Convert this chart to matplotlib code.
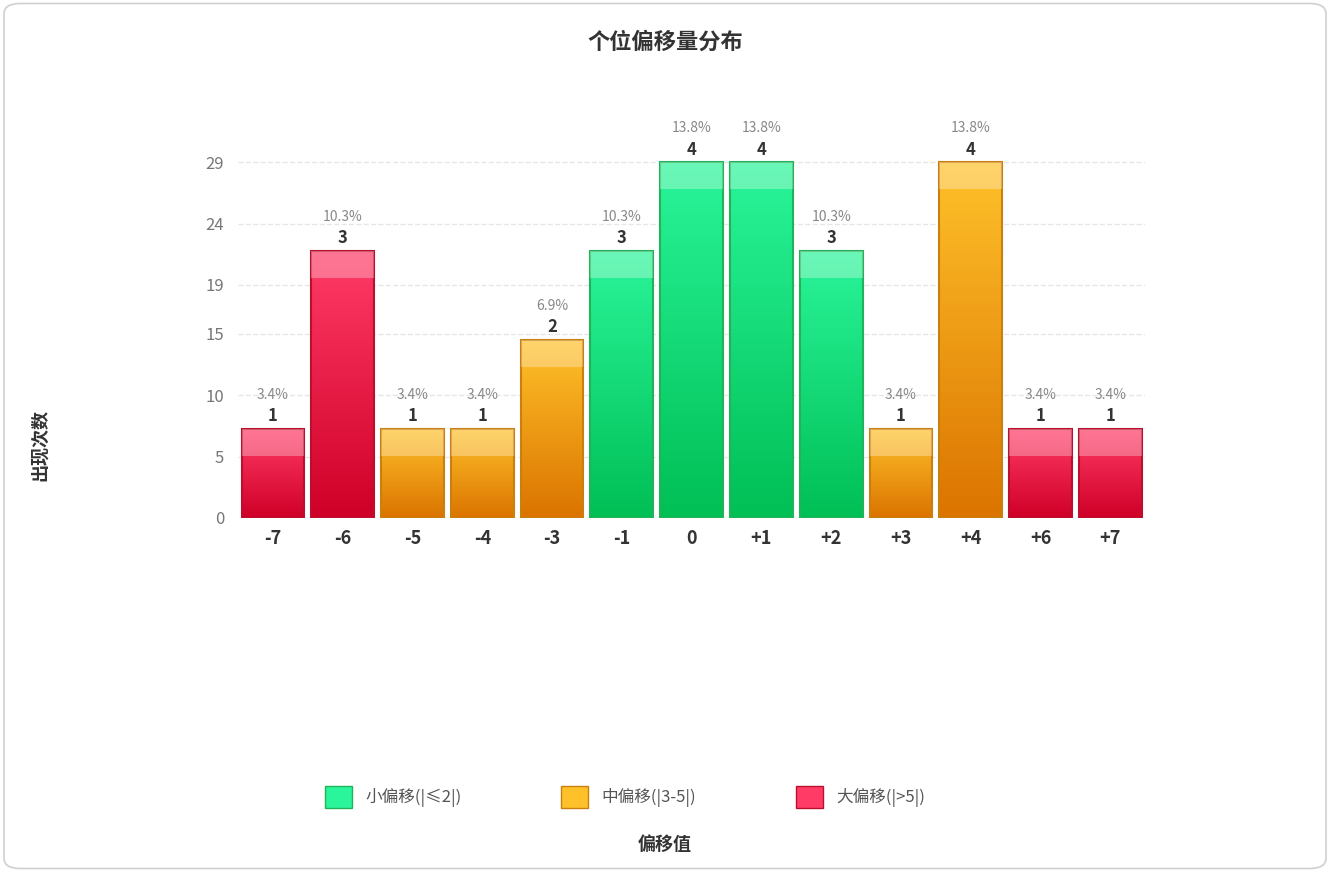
import numpy as np
import matplotlib.pyplot as plt
from matplotlib.colors import LinearSegmentedColormap
from matplotlib.patches import Rectangle, FancyBboxPatch, Patch

plt.rcParams['font.family'] = ['Noto Sans CJK SC', 'DejaVu Sans']

offsets = ['-7', '-6', '-5', '-4', '-3', '-1', '0', '+1', '+2', '+3', '+4', '+6', '+7']
counts = [1, 3, 1, 1, 2, 3, 4, 4, 3, 1, 4, 1, 1]
groups = ['big', 'big', 'mid', 'mid', 'mid', 'small', 'small', 'small', 'small', 'mid', 'mid', 'big', 'big']
ytick_vals = [0, 5, 10, 15, 19, 24, 29]
legend_labels = ['小偏移(|≤2|)', '中偏移(|3-5|)', '大偏移(|>5|)']

# top colour, bottom colour, edge colour
styles = {
    'small': ('#2af59a', '#00bf55', '#22b35a'),
    'mid': ('#ffc12a', '#db7400', '#c9800f'),
    'big': ('#ff3b66', '#cf0028', '#b8102e'),
}

total = sum(counts)
scale = 29 / max(counts)

fig = plt.figure(figsize=(13.3, 8.72), dpi=100)
fig.patches.append(FancyBboxPatch((0.003, 0.004), 0.994, 0.992, boxstyle='round,pad=0,rounding_size=0.012',
                                  transform=fig.transFigure, fc='none', ec='#d0d0d0', lw=1.2, zorder=-1))
ax = fig.add_axes([0.179, 0.406, 0.682, 0.422])
ax.set_facecolor('none')

w = 0.9
for i, (c, g) in enumerate(zip(counts, groups)):
    h = c * scale
    top, bot, edge = styles[g]
    cmap = LinearSegmentedColormap.from_list('g', [bot, top])
    grad = np.linspace(0, 1, 100).reshape(-1, 1)
    im = ax.imshow(grad, cmap=cmap, origin='lower', aspect='auto',
                   extent=(i - w / 2, i + w / 2, 0, h), zorder=2)
    r = Rectangle((i - w / 2, 0), w, h, fc='none', ec=edge, lw=1.5, zorder=3)
    ax.add_patch(r)
    im.set_clip_path(r)
    ax.add_patch(Rectangle((i - w / 2, h - 2.2), w, 2.2, fc='white', alpha=0.3, lw=0, zorder=3))
    ax.text(i, h + 0.3, str(c), ha='center', va='bottom', fontsize=12, fontweight='bold', color='#333333')
    ax.text(i, h + 2.2, f'{c / total * 100:.1f}%', ha='center', va='bottom', fontsize=10, color='#888888')

ax.set_xlim(-0.5, len(offsets) - 0.5)
ax.set_ylim(0, 30)
ax.set_xticks(range(len(offsets)))
ax.set_xticklabels(offsets, fontsize=13, fontweight='bold', color='#333333')
ax.set_yticks(ytick_vals)
ax.set_yticklabels([str(v) for v in ytick_vals], fontsize=12, color='#777777')
ax.tick_params(length=0, pad=8)
ax.tick_params(axis='y', pad=10)
for s in ax.spines.values():
    s.set_visible(False)
ax.grid(axis='y', ls='--', color='#e6e6e6', lw=1, zorder=0)
ax.set_axisbelow(True)

fig.text(0.5, 0.952, '个位偏移量分布', ha='center', va='center', fontsize=16, fontweight='bold', color='#333333')
fig.text(0.03, 0.49, '出现次数', rotation=90, ha='center', va='center', fontsize=13, fontweight='bold', color='#333333')
fig.text(0.5, 0.032, '偏移值', ha='center', va='center', fontsize=13, fontweight='bold', color='#333333')

handles = [Patch(fc=styles[k][0], ec=styles[k][2]) for k in ['small', 'mid', 'big']]
fig.legend(handles, legend_labels, loc='center', bbox_to_anchor=(0.47, 0.086), ncol=3, frameon=False,
           fontsize=12, handlelength=1.6, handleheight=1.6, columnspacing=6, labelcolor='#555555')

fig.savefig('out.png', dpi=100)
